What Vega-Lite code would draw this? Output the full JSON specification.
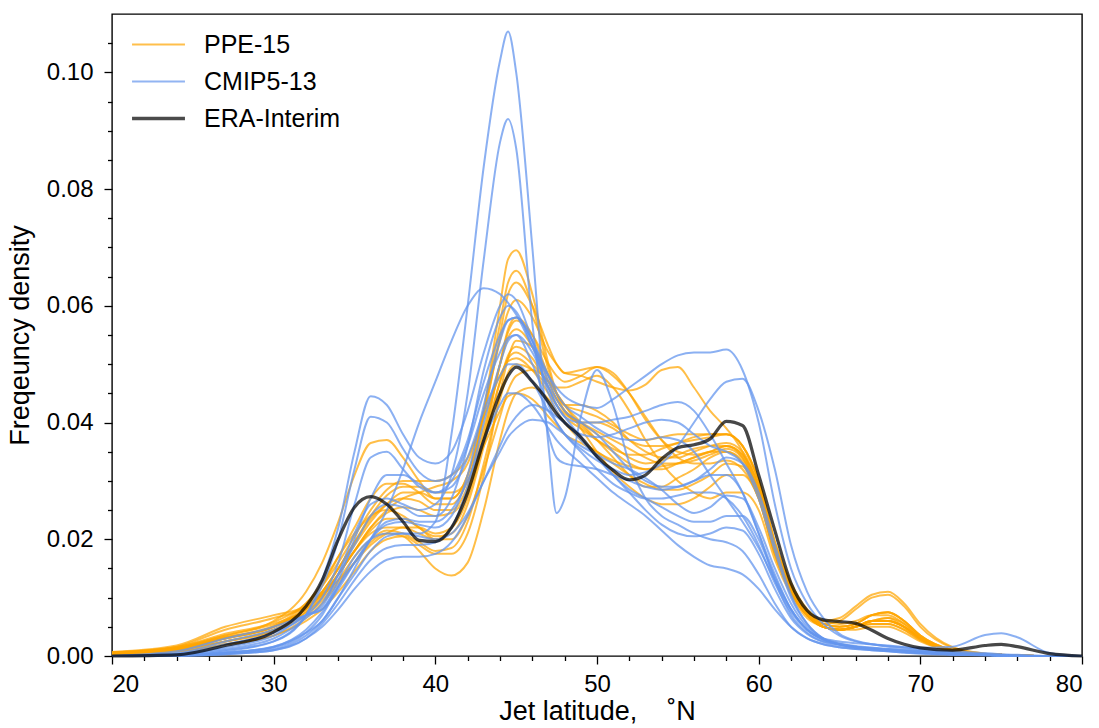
{
 "$schema": "https://vega.github.io/schema/vega-lite/v6.json",
 "width": 970, "height": 642,
 "autosize": {"type": "none"},
 "padding": {"left": 112, "top": 14, "right": 17, "bottom": 72},
 "background": "white",
 "config": {
  "font": "Liberation Sans",
  "view": {"stroke": "#000", "strokeWidth": 1.4},
  "axis": {"grid": false, "domain": false, "tickColor": "#000", "tickWidth": 1.3, "labelColor": "#000", "titleColor": "#000", "labelFont": "Liberation Sans", "titleFont": "Liberation Sans", "labelFontSize": 24, "titleFontSize": 27, "titleFontWeight": "normal"}
 },
 "datasets": {"d": [
{"x":20,"p1":0.0006,"p2":0.0005,"p3":0.0005,"p4":0.0004,"p5":0.0007,"p6":0.0005,"p7":0.0003,"p8":0.0005,"p9":0.0004,"p10":0.0006,"p11":0.0004,"p12":0.0005,"p13":0.0003,"p14":0.0006,"p15":0.0005,"c1":0,"c2":0,"c3":0,"c4":0,"c5":0,"c6":0,"c7":0,"c8":0,"c9":0,"c10":0,"c11":0,"c12":0,"c13":0,"e":0},
{"x":24,"p1":0.0015,"p2":0.0013,"p3":0.0012,"p4":0.001,"p5":0.0018,"p6":0.0012,"p7":0.0008,"p8":0.0013,"p9":0.001,"p10":0.0015,"p11":0.001,"p12":0.0012,"p13":0.0008,"p14":0.0016,"p15":0.0013,"c1":0.0001,"c2":0.0003,"c3":0.0005,"c4":0.0001,"c5":0.0001,"c6":0.0004,"c7":0.0008,"c8":0.0001,"c9":0.00005,"c10":0.0003,"c11":0.00005,"c12":0.00005,"c13":0.0001,"e":0.0002},
{"x":27,"p1":0.0035,"p2":0.0035,"p3":0.003,"p4":0.0025,"p5":0.005,"p6":0.003,"p7":0.002,"p8":0.0032,"p9":0.0025,"p10":0.0038,"p11":0.0025,"p12":0.003,"p13":0.002,"p14":0.0045,"p15":0.0032,"c1":0.0005,"c2":0.0015,"c3":0.0025,"c4":0.001,"c5":0.0008,"c6":0.002,"c7":0.003,"c8":0.0004,"c9":0.0003,"c10":0.0012,"c11":0.0003,"c12":0.0006,"c13":0.0005,"e":0.0018},
{"x":30,"p1":0.0055,"p2":0.006,"p3":0.005,"p4":0.0045,"p5":0.007,"p6":0.005,"p7":0.0035,"p8":0.0052,"p9":0.0045,"p10":0.0058,"p11":0.0042,"p12":0.005,"p13":0.0035,"p14":0.0065,"p15":0.005,"c1":0.0015,"c2":0.0035,"c3":0.0045,"c4":0.0025,"c5":0.0025,"c6":0.004,"c7":0.005,"c8":0.0012,"c9":0.001,"c10":0.003,"c11":0.001,"c12":0.0016,"c13":0.0016,"e":0.0041},
{"x":32,"p1":0.008,"p2":0.011,"p3":0.008,"p4":0.0075,"p5":0.0085,"p6":0.0085,"p7":0.006,"p8":0.009,"p9":0.0075,"p10":0.009,"p11":0.007,"p12":0.008,"p13":0.0065,"p14":0.0085,"p15":0.008,"c1":0.004,"c2":0.007,"c3":0.007,"c4":0.007,"c5":0.007,"c6":0.007,"c7":0.007,"c8":0.0035,"c9":0.003,"c10":0.0065,"c11":0.003,"c12":0.004,"c13":0.0045,"e":0.0085},
{"x":33,"p1":0.0105,"p2":0.016,"p3":0.011,"p4":0.01,"p5":0.0105,"p6":0.012,"p7":0.008,"p8":0.0125,"p9":0.01,"p10":0.012,"p11":0.0095,"p12":0.0105,"p13":0.009,"p14":0.011,"p15":0.011,"c1":0.007,"c2":0.0085,"c3":0.008,"c4":0.013,"c5":0.012,"c6":0.01,"c7":0.008,"c8":0.006,"c9":0.005,"c10":0.009,"c11":0.0055,"c12":0.006,"c13":0.0075,"e":0.013},
{"x":34,"p1":0.014,"p2":0.023,"p3":0.015,"p4":0.014,"p5":0.013,"p6":0.017,"p7":0.011,"p8":0.017,"p9":0.014,"p10":0.016,"p11":0.013,"p12":0.014,"p13":0.0125,"p14":0.015,"p15":0.015,"c1":0.012,"c2":0.014,"c3":0.012,"c4":0.022,"c5":0.02,"c6":0.016,"c7":0.013,"c8":0.01,"c9":0.008,"c10":0.014,"c11":0.009,"c12":0.01,"c13":0.0115,"e":0.02},
{"x":35,"p1":0.018,"p2":0.031,"p3":0.019,"p4":0.018,"p5":0.016,"p6":0.022,"p7":0.0145,"p8":0.021,"p9":0.018,"p10":0.0205,"p11":0.017,"p12":0.018,"p13":0.016,"p14":0.0195,"p15":0.0195,"c1":0.017,"c2":0.021,"c3":0.016,"c4":0.035,"c5":0.032,"c6":0.026,"c7":0.02,"c8":0.015,"c9":0.0115,"c10":0.019,"c11":0.013,"c12":0.014,"c13":0.016,"e":0.0255},
{"x":36,"p1":0.021,"p2":0.0365,"p3":0.023,"p4":0.022,"p5":0.019,"p6":0.027,"p7":0.018,"p8":0.024,"p9":0.022,"p10":0.025,"p11":0.02,"p12":0.0215,"p13":0.0195,"p14":0.024,"p15":0.0235,"c1":0.02,"c2":0.026,"c3":0.02,"c4":0.0445,"c5":0.041,"c6":0.034,"c7":0.027,"c8":0.02,"c9":0.0145,"c10":0.024,"c11":0.0165,"c12":0.018,"c13":0.02,"e":0.0273},
{"x":37,"p1":0.022,"p2":0.037,"p3":0.026,"p4":0.025,"p5":0.021,"p6":0.0295,"p7":0.02,"p8":0.025,"p9":0.0245,"p10":0.0285,"p11":0.0215,"p12":0.0235,"p13":0.021,"p14":0.0275,"p15":0.026,"c1":0.021,"c2":0.027,"c3":0.025,"c4":0.043,"c5":0.04,"c6":0.035,"c7":0.031,"c8":0.023,"c9":0.0165,"c10":0.026,"c11":0.0185,"c12":0.0205,"c13":0.0225,"e":0.026},
{"x":38,"p1":0.022,"p2":0.034,"p3":0.028,"p4":0.027,"p5":0.022,"p6":0.0295,"p7":0.0205,"p8":0.024,"p9":0.0255,"p10":0.03,"p11":0.021,"p12":0.0235,"p13":0.0205,"p14":0.029,"p15":0.027,"c1":0.021,"c2":0.026,"c3":0.032,"c4":0.038,"c5":0.0355,"c6":0.032,"c7":0.031,"c8":0.0235,"c9":0.017,"c10":0.0255,"c11":0.019,"c12":0.021,"c13":0.023,"e":0.023},
{"x":39,"p1":0.021,"p2":0.03,"p3":0.028,"p4":0.028,"p5":0.022,"p6":0.028,"p7":0.019,"p8":0.022,"p9":0.025,"p10":0.03,"p11":0.0195,"p12":0.022,"p13":0.018,"p14":0.029,"p15":0.0265,"c1":0.021,"c2":0.025,"c3":0.04,"c4":0.034,"c5":0.0315,"c6":0.029,"c7":0.0295,"c8":0.023,"c9":0.017,"c10":0.024,"c11":0.019,"c12":0.0205,"c13":0.0225,"e":0.0198},
{"x":40,"p1":0.02,"p2":0.027,"p3":0.027,"p4":0.029,"p5":0.021,"p6":0.026,"p7":0.0175,"p8":0.0205,"p9":0.024,"p10":0.03,"p11":0.018,"p12":0.02,"p13":0.015,"p14":0.028,"p15":0.025,"c1":0.023,"c2":0.026,"c3":0.047,"c4":0.033,"c5":0.03,"c6":0.028,"c7":0.028,"c8":0.023,"c9":0.0175,"c10":0.024,"c11":0.0195,"c12":0.02,"c13":0.022,"e":0.0196},
{"x":41,"p1":0.022,"p2":0.027,"p3":0.027,"p4":0.03,"p5":0.022,"p6":0.026,"p7":0.0175,"p8":0.021,"p9":0.0245,"p10":0.031,"p11":0.0185,"p12":0.02,"p13":0.0138,"p14":0.028,"p15":0.025,"c1":0.038,"c2":0.031,"c3":0.054,"c4":0.035,"c5":0.031,"c6":0.03,"c7":0.029,"c8":0.025,"c9":0.0195,"c10":0.027,"c11":0.022,"c12":0.021,"c13":0.024,"e":0.022},
{"x":42,"p1":0.029,"p2":0.031,"p3":0.031,"p4":0.033,"p5":0.027,"p6":0.03,"p7":0.021,"p8":0.026,"p9":0.028,"p10":0.034,"p11":0.023,"p12":0.024,"p13":0.016,"p14":0.03,"p15":0.029,"c1":0.06,"c2":0.045,"c3":0.06,"c4":0.042,"c5":0.037,"c6":0.036,"c7":0.034,"c8":0.03,"c9":0.024,"c10":0.036,"c11":0.029,"c12":0.0245,"c13":0.031,"e":0.028},
{"x":43,"p1":0.042,"p2":0.042,"p3":0.041,"p4":0.042,"p5":0.037,"p6":0.039,"p7":0.031,"p8":0.036,"p9":0.037,"p10":0.041,"p11":0.033,"p12":0.032,"p13":0.025,"p14":0.036,"p15":0.038,"c1":0.084,"c2":0.068,"c3":0.063,"c4":0.052,"c5":0.047,"c6":0.045,"c7":0.042,"c8":0.037,"c9":0.03,"c10":0.049,"c11":0.04,"c12":0.03,"c13":0.043,"e":0.037},
{"x":44,"p1":0.06,"p2":0.057,"p3":0.055,"p4":0.054,"p5":0.05,"p6":0.05,"p7":0.045,"p8":0.047,"p9":0.047,"p10":0.048,"p11":0.044,"p12":0.041,"p13":0.037,"p14":0.042,"p15":0.05,"c1":0.102,"c2":0.088,"c3":0.062,"c4":0.06,"c5":0.055,"c6":0.052,"c7":0.048,"c8":0.043,"c9":0.036,"c10":0.058,"c11":0.05,"c12":0.035,"c13":0.054,"e":0.045},
{"x":44.5,"p1":0.068,"p2":0.064,"p3":0.062,"p4":0.059,"p5":0.056,"p6":0.0545,"p7":0.051,"p8":0.0515,"p9":0.051,"p10":0.0505,"p11":0.0485,"p12":0.0455,"p13":0.042,"p14":0.0445,"p15":0.0555,"c1":0.107,"c2":0.092,"c3":0.0605,"c4":0.062,"c5":0.0575,"c6":0.0545,"c7":0.05,"c8":0.045,"c9":0.039,"c10":0.06,"c11":0.054,"c12":0.0375,"c13":0.0575,"e":0.048},
{"x":45,"p1":0.0695,"p2":0.066,"p3":0.064,"p4":0.061,"p5":0.058,"p6":0.056,"p7":0.054,"p8":0.053,"p9":0.052,"p10":0.051,"p11":0.05,"p12":0.048,"p13":0.045,"p14":0.045,"p15":0.0575,"c1":0.1,"c2":0.087,"c3":0.0585,"c4":0.061,"c5":0.058,"c6":0.055,"c7":0.05,"c8":0.045,"c9":0.041,"c10":0.059,"c11":0.055,"c12":0.039,"c13":0.058,"e":0.0495},
{"x":46,"p1":0.062,"p2":0.06,"p3":0.06,"p4":0.058,"p5":0.055,"p6":0.053,"p7":0.053,"p8":0.051,"p9":0.05,"p10":0.049,"p11":0.049,"p12":0.049,"p13":0.046,"p14":0.044,"p15":0.055,"c1":0.07,"c2":0.057,"c3":0.053,"c4":0.054,"c5":0.054,"c6":0.05,"c7":0.047,"c8":0.043,"c9":0.043,"c10":0.053,"c11":0.052,"c12":0.0405,"c13":0.054,"e":0.047},
{"x":47,"p1":0.05,"p2":0.049,"p3":0.053,"p4":0.052,"p5":0.048,"p6":0.047,"p7":0.048,"p8":0.046,"p9":0.047,"p10":0.045,"p11":0.046,"p12":0.047,"p13":0.044,"p14":0.041,"p15":0.05,"c1":0.036,"c2":0.038,"c3":0.048,"c4":0.045,"c5":0.047,"c6":0.043,"c7":0.042,"c8":0.039,"c9":0.042,"c10":0.046,"c11":0.046,"c12":0.04,"c13":0.048,"e":0.0435},
{"x":47.5,"p1":0.045,"p2":0.045,"p3":0.05,"p4":0.05,"p5":0.045,"p6":0.044,"p7":0.045,"p8":0.043,"p9":0.046,"p10":0.043,"p11":0.044,"p12":0.045,"p13":0.042,"p14":0.0395,"p15":0.048,"c1":0.0245,"c2":0.034,"c3":0.046,"c4":0.042,"c5":0.044,"c6":0.04,"c7":0.04,"c8":0.037,"c9":0.041,"c10":0.043,"c11":0.043,"c12":0.039,"c13":0.045,"e":0.0415},
{"x":48,"p1":0.042,"p2":0.043,"p3":0.0485,"p4":0.0485,"p5":0.043,"p6":0.042,"p7":0.043,"p8":0.041,"p9":0.046,"p10":0.0415,"p11":0.042,"p12":0.043,"p13":0.04,"p14":0.038,"p15":0.047,"c1":0.027,"c2":0.033,"c3":0.0445,"c4":0.04,"c5":0.042,"c6":0.038,"c7":0.038,"c8":0.0355,"c9":0.04,"c10":0.041,"c11":0.041,"c12":0.038,"c13":0.043,"e":0.04},
{"x":49,"p1":0.04,"p2":0.043,"p3":0.049,"p4":0.048,"p5":0.042,"p6":0.04,"p7":0.04,"p8":0.039,"p9":0.047,"p10":0.04,"p11":0.0395,"p12":0.039,"p13":0.037,"p14":0.0365,"p15":0.048,"c1":0.041,"c2":0.0325,"c3":0.043,"c4":0.038,"c5":0.04,"c6":0.0355,"c7":0.035,"c8":0.033,"c9":0.037,"c10":0.04,"c11":0.0375,"c12":0.036,"c13":0.041,"e":0.0375},
{"x":50,"p1":0.04,"p2":0.042,"p3":0.0495,"p4":0.047,"p5":0.041,"p6":0.038,"p7":0.037,"p8":0.037,"p9":0.048,"p10":0.0385,"p11":0.037,"p12":0.035,"p13":0.035,"p14":0.035,"p15":0.0495,"c1":0.049,"c2":0.032,"c3":0.0425,"c4":0.0375,"c5":0.038,"c6":0.0335,"c7":0.032,"c8":0.0305,"c9":0.034,"c10":0.04,"c11":0.034,"c12":0.0345,"c13":0.039,"e":0.0342},
{"x":51,"p1":0.039,"p2":0.04,"p3":0.048,"p4":0.046,"p5":0.0395,"p6":0.036,"p7":0.034,"p8":0.0355,"p9":0.046,"p10":0.037,"p11":0.035,"p12":0.0315,"p13":0.0335,"p14":0.033,"p15":0.0485,"c1":0.043,"c2":0.031,"c3":0.044,"c4":0.038,"c5":0.035,"c6":0.032,"c7":0.0295,"c8":0.028,"c9":0.031,"c10":0.0405,"c11":0.031,"c12":0.033,"c13":0.0375,"e":0.0318},
{"x":52,"p1":0.037,"p2":0.037,"p3":0.045,"p4":0.0455,"p5":0.038,"p6":0.034,"p7":0.031,"p8":0.0345,"p9":0.042,"p10":0.0355,"p11":0.033,"p12":0.029,"p13":0.0325,"p14":0.031,"p15":0.045,"c1":0.033,"c2":0.03,"c3":0.046,"c4":0.039,"c5":0.032,"c6":0.031,"c7":0.028,"c8":0.026,"c9":0.0285,"c10":0.041,"c11":0.028,"c12":0.032,"c13":0.037,"e":0.0302},
{"x":53,"p1":0.036,"p2":0.035,"p3":0.041,"p4":0.0465,"p5":0.037,"p6":0.033,"p7":0.029,"p8":0.0345,"p9":0.037,"p10":0.034,"p11":0.032,"p12":0.027,"p13":0.032,"p14":0.0295,"p15":0.0405,"c1":0.027,"c2":0.029,"c3":0.048,"c4":0.04,"c5":0.03,"c6":0.0315,"c7":0.027,"c8":0.024,"c9":0.027,"c10":0.042,"c11":0.025,"c12":0.0305,"c13":0.037,"e":0.031},
{"x":54,"p1":0.036,"p2":0.034,"p3":0.037,"p4":0.049,"p5":0.0375,"p6":0.0335,"p7":0.029,"p8":0.0355,"p9":0.033,"p10":0.033,"p11":0.032,"p12":0.026,"p13":0.0325,"p14":0.0285,"p15":0.037,"c1":0.024,"c2":0.0285,"c3":0.05,"c4":0.0405,"c5":0.029,"c6":0.033,"c7":0.027,"c8":0.0215,"c9":0.0255,"c10":0.043,"c11":0.0225,"c12":0.0285,"c13":0.0375,"e":0.0338},
{"x":55,"p1":0.0365,"p2":0.034,"p3":0.034,"p4":0.0495,"p5":0.038,"p6":0.0345,"p7":0.0305,"p8":0.0365,"p9":0.03,"p10":0.033,"p11":0.033,"p12":0.026,"p13":0.033,"p14":0.0285,"p15":0.035,"c1":0.0225,"c2":0.029,"c3":0.0515,"c4":0.04,"c5":0.029,"c6":0.036,"c7":0.0275,"c8":0.019,"c9":0.024,"c10":0.0435,"c11":0.021,"c12":0.026,"c13":0.037,"e":0.0357},
{"x":56,"p1":0.037,"p2":0.035,"p3":0.033,"p4":0.046,"p5":0.038,"p6":0.0355,"p7":0.032,"p8":0.0375,"p9":0.028,"p10":0.0335,"p11":0.034,"p12":0.027,"p13":0.034,"p14":0.0295,"p15":0.0345,"c1":0.021,"c2":0.03,"c3":0.052,"c4":0.038,"c5":0.03,"c6":0.04,"c7":0.028,"c8":0.017,"c9":0.023,"c10":0.042,"c11":0.0205,"c12":0.0245,"c13":0.035,"e":0.0362},
{"x":57,"p1":0.0375,"p2":0.036,"p3":0.033,"p4":0.042,"p5":0.038,"p6":0.036,"p7":0.034,"p8":0.038,"p9":0.027,"p10":0.0345,"p11":0.035,"p12":0.029,"p13":0.035,"p14":0.031,"p15":0.035,"c1":0.02,"c2":0.031,"c3":0.052,"c4":0.036,"c5":0.032,"c6":0.044,"c7":0.028,"c8":0.0155,"c9":0.023,"c10":0.038,"c11":0.021,"c12":0.0255,"c13":0.031,"e":0.0372},
{"x":58,"p1":0.038,"p2":0.0365,"p3":0.0335,"p4":0.039,"p5":0.038,"p6":0.036,"p7":0.035,"p8":0.038,"p9":0.028,"p10":0.0355,"p11":0.036,"p12":0.031,"p13":0.035,"p14":0.033,"p15":0.036,"c1":0.0195,"c2":0.031,"c3":0.0525,"c4":0.035,"c5":0.034,"c6":0.047,"c7":0.027,"c8":0.015,"c9":0.024,"c10":0.033,"c11":0.022,"c12":0.0275,"c13":0.027,"e":0.0402},
{"x":59,"p1":0.036,"p2":0.035,"p3":0.032,"p4":0.035,"p5":0.036,"p6":0.034,"p7":0.0335,"p8":0.036,"p9":0.028,"p10":0.034,"p11":0.0345,"p12":0.031,"p13":0.033,"p14":0.0325,"p15":0.0345,"c1":0.018,"c2":0.028,"c3":0.049,"c4":0.033,"c5":0.033,"c6":0.0475,"c7":0.024,"c8":0.014,"c9":0.024,"c10":0.028,"c11":0.0215,"c12":0.027,"c13":0.023,"e":0.0395},
{"x":60,"p1":0.03,"p2":0.029,"p3":0.027,"p4":0.028,"p5":0.03,"p6":0.028,"p7":0.028,"p8":0.03,"p9":0.025,"p10":0.028,"p11":0.029,"p12":0.027,"p13":0.027,"p14":0.0275,"p15":0.029,"c1":0.014,"c2":0.021,"c3":0.04,"c4":0.027,"c5":0.028,"c6":0.042,"c7":0.019,"c8":0.0115,"c9":0.02,"c10":0.021,"c11":0.0175,"c12":0.022,"c13":0.0185,"e":0.031},
{"x":61,"p1":0.0195,"p2":0.0185,"p3":0.0175,"p4":0.0175,"p5":0.0195,"p6":0.018,"p7":0.018,"p8":0.0195,"p9":0.0165,"p10":0.018,"p11":0.0185,"p12":0.0175,"p13":0.0175,"p14":0.018,"p15":0.0185,"c1":0.009,"c2":0.013,"c3":0.026,"c4":0.018,"c5":0.019,"c6":0.032,"c7":0.0125,"c8":0.008,"c9":0.0135,"c10":0.014,"c11":0.0115,"c12":0.015,"c13":0.013,"e":0.0215},
{"x":62,"p1":0.012,"p2":0.0115,"p3":0.011,"p4":0.011,"p5":0.0125,"p6":0.011,"p7":0.011,"p8":0.012,"p9":0.0105,"p10":0.011,"p11":0.0115,"p12":0.011,"p13":0.011,"p14":0.0115,"p15":0.0115,"c1":0.005,"c2":0.007,"c3":0.015,"c4":0.01,"c5":0.0105,"c6":0.019,"c7":0.0075,"c8":0.005,"c9":0.008,"c10":0.008,"c11":0.0065,"c12":0.009,"c13":0.008,"e":0.0125},
{"x":63,"p1":0.0075,"p2":0.007,"p3":0.007,"p4":0.007,"p5":0.008,"p6":0.007,"p7":0.007,"p8":0.0075,"p9":0.0065,"p10":0.007,"p11":0.007,"p12":0.007,"p13":0.007,"p14":0.0075,"p15":0.007,"c1":0.003,"c2":0.004,"c3":0.009,"c4":0.0055,"c5":0.0055,"c6":0.011,"c7":0.0045,"c8":0.003,"c9":0.0045,"c10":0.0045,"c11":0.0038,"c12":0.005,"c13":0.0045,"e":0.0078},
{"x":64,"p1":0.006,"p2":0.0055,"p3":0.005,"p4":0.0055,"p5":0.006,"p6":0.005,"p7":0.005,"p8":0.0055,"p9":0.005,"p10":0.005,"p11":0.005,"p12":0.005,"p13":0.005,"p14":0.0055,"p15":0.005,"c1":0.002,"c2":0.0025,"c3":0.0055,"c4":0.003,"c5":0.003,"c6":0.0065,"c7":0.003,"c8":0.002,"c9":0.0028,"c10":0.0028,"c11":0.0024,"c12":0.003,"c13":0.0028,"e":0.0062},
{"x":65,"p1":0.0065,"p2":0.006,"p3":0.0045,"p4":0.005,"p5":0.0055,"p6":0.0045,"p7":0.0045,"p8":0.005,"p9":0.0045,"p10":0.0045,"p11":0.0045,"p12":0.0045,"p13":0.0045,"p14":0.005,"p15":0.0045,"c1":0.0015,"c2":0.002,"c3":0.0035,"c4":0.002,"c5":0.002,"c6":0.0038,"c7":0.0025,"c8":0.0015,"c9":0.002,"c10":0.002,"c11":0.0018,"c12":0.0022,"c13":0.002,"e":0.0059},
{"x":66,"p1":0.0085,"p2":0.008,"p3":0.005,"p4":0.0055,"p5":0.006,"p6":0.005,"p7":0.005,"p8":0.0055,"p9":0.005,"p10":0.005,"p11":0.005,"p12":0.0045,"p13":0.005,"p14":0.0055,"p15":0.005,"c1":0.0012,"c2":0.0016,"c3":0.0025,"c4":0.0015,"c5":0.0015,"c6":0.0026,"c7":0.0022,"c8":0.0012,"c9":0.0016,"c10":0.0015,"c11":0.0014,"c12":0.0017,"c13":0.0015,"e":0.0056},
{"x":67,"p1":0.0105,"p2":0.01,"p3":0.006,"p4":0.007,"p5":0.007,"p6":0.0055,"p7":0.006,"p8":0.007,"p9":0.006,"p10":0.006,"p11":0.006,"p12":0.005,"p13":0.0055,"p14":0.007,"p15":0.006,"c1":0.001,"c2":0.0014,"c3":0.002,"c4":0.0012,"c5":0.0012,"c6":0.002,"c7":0.002,"c8":0.001,"c9":0.0013,"c10":0.0012,"c11":0.0011,"c12":0.0014,"c13":0.0012,"e":0.0044},
{"x":68,"p1":0.011,"p2":0.0105,"p3":0.006,"p4":0.0075,"p5":0.007,"p6":0.0055,"p7":0.006,"p8":0.0075,"p9":0.006,"p10":0.0065,"p11":0.006,"p12":0.005,"p13":0.0055,"p14":0.0075,"p15":0.0065,"c1":0.0008,"c2":0.0012,"c3":0.0016,"c4":0.001,"c5":0.001,"c6":0.0017,"c7":0.0018,"c8":0.0008,"c9":0.0011,"c10":0.001,"c11":0.0009,"c12":0.0012,"c13":0.001,"e":0.003},
{"x":69,"p1":0.009,"p2":0.0085,"p3":0.005,"p4":0.006,"p5":0.0055,"p6":0.0045,"p7":0.005,"p8":0.006,"p9":0.005,"p10":0.0055,"p11":0.005,"p12":0.004,"p13":0.0045,"p14":0.006,"p15":0.005,"c1":0.0006,"c2":0.001,"c3":0.0013,"c4":0.0008,"c5":0.0008,"c6":0.0015,"c7":0.0015,"c8":0.0006,"c9":0.0009,"c10":0.0008,"c11":0.0007,"c12":0.001,"c13":0.0008,"e":0.002},
{"x":70,"p1":0.0055,"p2":0.005,"p3":0.003,"p4":0.0035,"p5":0.0032,"p6":0.0028,"p7":0.003,"p8":0.0035,"p9":0.003,"p10":0.0032,"p11":0.003,"p12":0.0025,"p13":0.0027,"p14":0.0035,"p15":0.003,"c1":0.0004,"c2":0.0008,"c3":0.001,"c4":0.0006,"c5":0.0006,"c6":0.0012,"c7":0.0014,"c8":0.0005,"c9":0.0007,"c10":0.0006,"c11":0.0005,"c12":0.0008,"c13":0.0006,"e":0.0014},
{"x":72,"p1":0.0015,"p2":0.0014,"p3":0.0009,"p4":0.001,"p5":0.001,"p6":0.0008,"p7":0.0009,"p8":0.001,"p9":0.0009,"p10":0.001,"p11":0.0009,"p12":0.0008,"p13":0.0008,"p14":0.001,"p15":0.0009,"c1":0.0002,"c2":0.0005,"c3":0.0006,"c4":0.0003,"c5":0.0003,"c6":0.0008,"c7":0.0016,"c8":0.0003,"c9":0.0004,"c10":0.0003,"c11":0.0003,"c12":0.0004,"c13":0.0003,"e":0.001},
{"x":74,"p1":0.0004,"p2":0.0004,"p3":0.0003,"p4":0.0003,"p5":0.0003,"p6":0.0003,"p7":0.0003,"p8":0.0003,"p9":0.0003,"p10":0.0003,"p11":0.0003,"p12":0.0003,"p13":0.0003,"p14":0.0003,"p15":0.0003,"c1":0.0001,"c2":0.0003,"c3":0.0003,"c4":0.0002,"c5":0.0002,"c6":0.0005,"c7":0.0036,"c8":0.0002,"c9":0.0002,"c10":0.0002,"c11":0.0002,"c12":0.0002,"c13":0.0002,"e":0.0018},
{"x":75,"p1":0.0002,"p2":0.0002,"p3":0.0002,"p4":0.0002,"p5":0.0002,"p6":0.0002,"p7":0.0002,"p8":0.0002,"p9":0.0002,"p10":0.0002,"p11":0.0002,"p12":0.0002,"p13":0.0002,"p14":0.0002,"p15":0.0002,"c1":0,"c2":0.0002,"c3":0.0002,"c4":0.0001,"c5":0.0001,"c6":0.0003,"c7":0.0039,"c8":0.0001,"c9":0.0001,"c10":0.0001,"c11":0.0001,"c12":0.0001,"c13":0.0001,"e":0.002},
{"x":76,"p1":0.0001,"p2":0.0001,"p3":0.0001,"p4":0.0001,"p5":0.0001,"p6":0.0001,"p7":0.0001,"p8":0.0001,"p9":0.0001,"p10":0.0001,"p11":0.0001,"p12":0.0001,"p13":0.0001,"p14":0.0001,"p15":0.0001,"c1":0,"c2":0.0001,"c3":0.0001,"c4":0,"c5":0,"c6":0.0002,"c7":0.0032,"c8":0,"c9":0,"c10":0,"c11":0,"c12":0,"c13":0,"e":0.0016},
{"x":78,"p1":0,"p2":0,"p3":0,"p4":0,"p5":0,"p6":0,"p7":0,"p8":0,"p9":0,"p10":0,"p11":0,"p12":0,"p13":0,"p14":0,"p15":0,"c1":0,"c2":0,"c3":0,"c4":0,"c5":0,"c6":0,"c7":0.0005,"c8":0,"c9":0,"c10":0,"c11":0,"c12":0,"c13":0,"e":0.0004},
{"x":80,"p1":0,"p2":0,"p3":0,"p4":0,"p5":0,"p6":0,"p7":0,"p8":0,"p9":0,"p10":0,"p11":0,"p12":0,"p13":0,"p14":0,"p15":0,"c1":0,"c2":0,"c3":0,"c4":0,"c5":0,"c6":0,"c7":0,"c8":0,"c9":0,"c10":0,"c11":0,"c12":0,"c13":0,"e":0}
 ]},
 "data": {"name": "d"},
 "layer": [
  {
   "transform": [{"fold": ["p1","p2","p3","p4","p5","p6","p7","p8","p9","p10","p11","p12","p13","p14","p15"], "as": ["s", "y"]}],
   "mark": {"type": "line", "interpolate": "monotone", "strokeWidth": 2, "opacity": 0.72},
   "encoding": {
    "x": {"field": "x", "type": "quantitative", "scale": {"domain": [20, 80], "nice": false},
          "axis": {"orient": "bottom", "values": [22,24,26,28,32,34,36,38,42,44,46,48,52,54,56,58,62,64,66,68,72,74,76,78], "labels": false, "tickSize": 4.5, "title": null}},
    "y": {"field": "y", "type": "quantitative", "scale": {"domain": [0, 0.11], "nice": false},
          "axis": {"orient": "left", "values": [0.005,0.01,0.015,0.025,0.03,0.035,0.045,0.05,0.055,0.065,0.07,0.075,0.085,0.09,0.095,0.105], "labels": false, "tickSize": 4.5, "title": null}},
    "detail": {"field": "s"},
    "color": {"datum": "PPE-15", "type": "nominal",
      "scale": {"domain": ["PPE-15", "CMIP5-13", "ERA-Interim"], "range": ["#FFA500", "#6495ED", "#000000"]},
      "legend": {"title": null, "orient": "none", "legendX": 34, "legendY": 18, "symbolType": "stroke", "symbolSize": 2800, "symbolStrokeWidth": 2, "symbolOpacity": 0.7, "labelFontSize": 25, "labelFont": "Liberation Sans", "labelColor": "#000", "labelOffset": 33, "rowPadding": 11, "padding": 0,
        "encode": {"symbols": {"update": {"strokeWidth": {"signal": "datum.value === 'ERA-Interim' ? 3.5 : 2"}}}}}}
   }
  },
  {
   "transform": [{"fold": ["c1","c2","c3","c4","c5","c6","c7","c8","c9","c10","c11","c12","c13"], "as": ["s", "y"]}],
   "mark": {"type": "line", "interpolate": "monotone", "strokeWidth": 2, "opacity": 0.75},
   "encoding": {
    "x": {"field": "x", "type": "quantitative", "axis": null},
    "y": {"field": "y", "type": "quantitative", "axis": null},
    "detail": {"field": "s"},
    "color": {"datum": "CMIP5-13", "type": "nominal"}
   }
  },
  {
   "mark": {"type": "line", "interpolate": "monotone", "strokeWidth": 3.2, "opacity": 0.72},
   "encoding": {
    "x": {"field": "x", "type": "quantitative",
          "axis": {"orient": "bottom", "values": [20,30,40,50,60,70,80], "tickSize": 8, "labelPadding": 8, "title": "Jet latitude,\u00a0\u00a0\u00a0\u00a0˚N", "titlePadding": 2}},
    "y": {"field": "e", "type": "quantitative",
          "axis": {"orient": "left", "values": [0,0.02,0.04,0.06,0.08,0.1], "format": ".2f", "tickSize": 8, "labelPadding": 11, "title": "Freqeuncy density", "titlePadding": 12}},
    "color": {"datum": "ERA-Interim", "type": "nominal"}
   }
  }
 ],
 "resolve": {"axis": {"x": "independent", "y": "independent"}}
}
